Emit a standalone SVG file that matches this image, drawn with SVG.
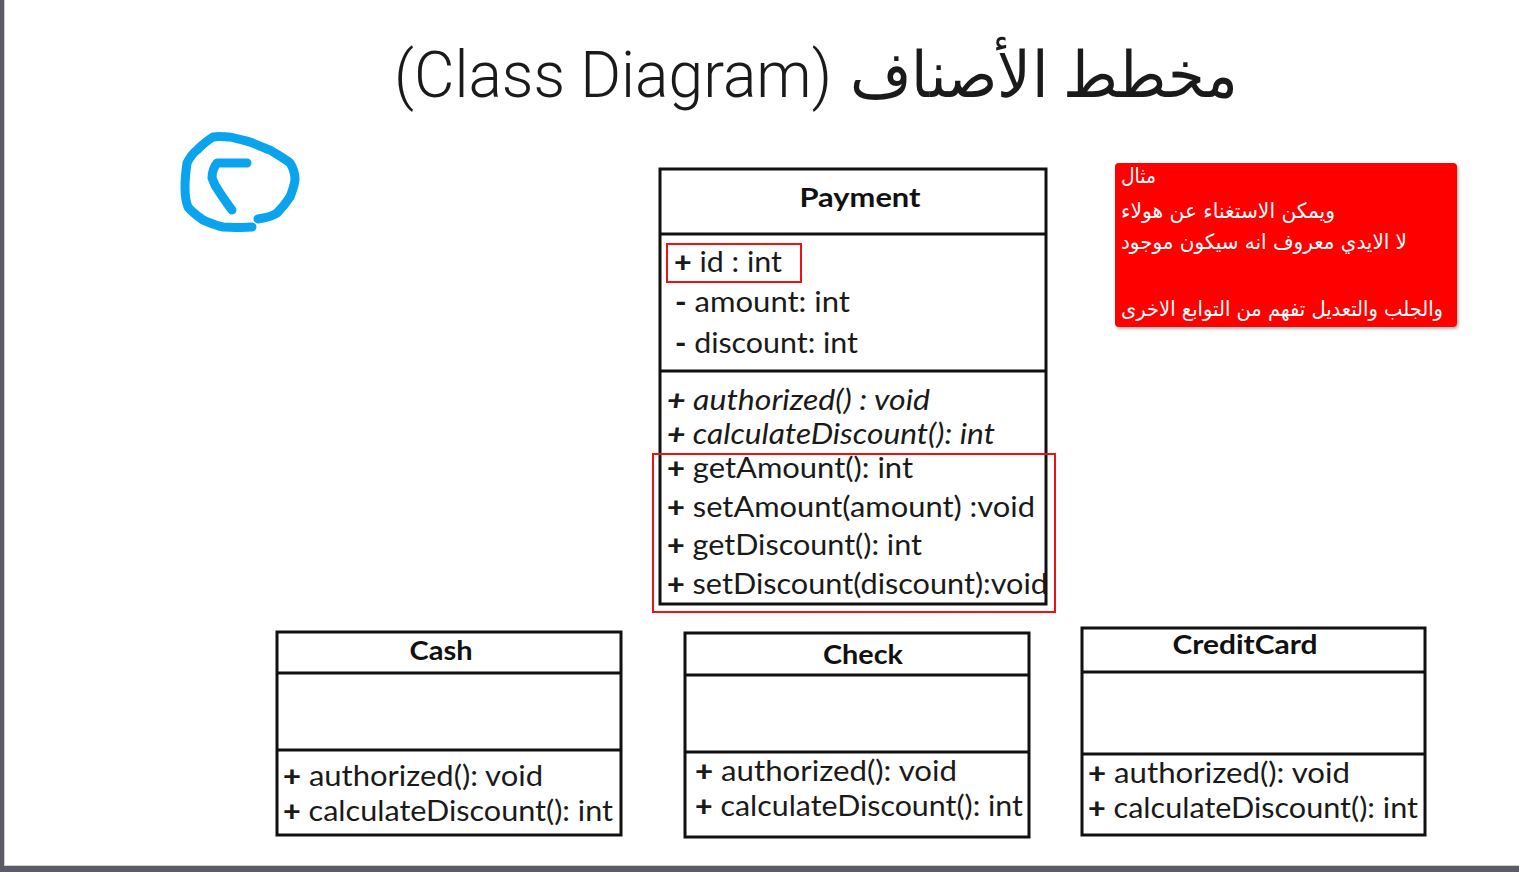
<svg xmlns="http://www.w3.org/2000/svg" width="1519" height="872" viewBox="0 0 1519 872">
  <defs>
    <style>
      .box { fill: #ffffff; stroke: #111111; stroke-width: 3; }
      .sep { stroke: #111111; stroke-width: 3; }
      .cname { font-family: Lato, "Open Sans", "Liberation Sans", sans-serif; font-weight: 700; font-size: 27px; fill: #111111; text-anchor: middle; }
      .member { font-family: Lato, "Open Sans", "Liberation Sans", sans-serif; font-size: 28px; fill: #1a1a1a; }
      .abstract { font-style: italic; }
      .vis { font-weight: 900; }
      .hl { fill: none; stroke: #ee1111; stroke-width: 2; }
      .note-text { font-family: "DejaVu Sans", "Noto Sans", sans-serif; font-size: 21px; fill: #ffffff; }
      .title { font-family: Roboto, "DejaVu Sans", sans-serif; font-weight: 300; font-size: 64px; fill: #1a1a1a; }
    </style>
    <filter id="shadow" x="-5%" y="-5%" width="112%" height="115%">
      <feDropShadow dx="1.5" dy="2" stdDeviation="1.5" flood-color="#000000" flood-opacity="0.3"/>
    </filter>
  </defs>

  <!-- page background and frame -->
  <rect x="0" y="0" width="1519" height="872" fill="#ffffff"/>
  <rect x="0" y="0" width="4" height="872" fill="#5b5b68"/>
  <rect x="4" y="0" width="1" height="866" fill="#cfcbe0"/>
  <rect x="0" y="866" width="1519" height="6" fill="#5b5b68"/>
  <rect x="4" y="865" width="1515" height="1" fill="#cfcbe0"/>

  <!-- title -->
  <g id="title">
    <text class="title" x="394" y="97" textLength="438" lengthAdjust="spacingAndGlyphs">(Class Diagram)</text>
    <text class="title" x="1238" y="97" text-anchor="end" font-family="'DejaVu Sans', sans-serif" font-weight="200" textLength="388" lengthAdjust="spacingAndGlyphs">مخطط الأصناف</text>
  </g>

  <!-- freehand pen mark -->
  <g id="pen-mark" fill="none" stroke="#0aa3ee" stroke-width="9" stroke-linecap="round" stroke-linejoin="round">
    <path d="M252,227 C240,228 230,227 223,227 C214,225 208,222 203,220 C196,215 191,211 188,207 C185,200 185,194 185,187 C185,178 186,170 187,163 C190,157 193,153 197,150 C203,144 208,140 213,137 C220,136 225,137 230,137 C238,139 244,140 250,142 C258,145 264,148 270,150 C278,155 285,159 290,163 C294,169 295,174 295,180 C294,187 292,192 290,197 C286,203 282,208 277,213 C271,217 265,218 258,219"/>
    <path d="M247,163 C236,163 226,163 217,163 C213,168 212,173 212,178 C214,184 217,189 220,193 C224,199 228,205 232,210"/>
  </g>

  <!-- connectors (none drawn) -->
  <g id="connectors"/>

  <!-- Payment class -->
  <g id="node-payment">
    <rect class="box" x="660" y="169" width="386" height="435"/>
    <line class="sep" x1="660" y1="234" x2="1046" y2="234"/>
    <line class="sep" x1="660" y1="371" x2="1046" y2="371"/>
    <text class="cname" x="860" y="207" textLength="121" lengthAdjust="spacingAndGlyphs">Payment</text>
    <text class="member" x="674" y="272" textLength="108" lengthAdjust="spacingAndGlyphs"><tspan class="vis">+</tspan> id : int</text>
    <text class="member" x="675" y="312" textLength="175" lengthAdjust="spacingAndGlyphs"><tspan class="vis">-</tspan> amount: int</text>
    <text class="member" x="675" y="353" textLength="183" lengthAdjust="spacingAndGlyphs"><tspan class="vis">-</tspan> discount: int</text>
    <text class="member abstract" x="667" y="410" textLength="263" lengthAdjust="spacingAndGlyphs"><tspan class="vis">+</tspan> authorized() : void</text>
    <text class="member abstract" x="667" y="444" textLength="328" lengthAdjust="spacingAndGlyphs"><tspan class="vis">+</tspan> calculateDiscount(): int</text>
    <text class="member" x="667" y="478" textLength="246" lengthAdjust="spacingAndGlyphs"><tspan class="vis">+</tspan> getAmount(): int</text>
    <text class="member" x="667" y="517" textLength="368" lengthAdjust="spacingAndGlyphs"><tspan class="vis">+</tspan> setAmount(amount) :void</text>
    <text class="member" x="667" y="555" textLength="255" lengthAdjust="spacingAndGlyphs"><tspan class="vis">+</tspan> getDiscount(): int</text>
    <text class="member" x="667" y="594" textLength="381" lengthAdjust="spacingAndGlyphs"><tspan class="vis">+</tspan> setDiscount(discount):void</text>
    <rect class="hl" x="667" y="244" width="134" height="38"/>
    <rect class="hl" x="653" y="454" width="402" height="158"/>
  </g>

  <!-- note -->
  <g id="node-note">
    <rect x="1115" y="163" width="342" height="164" rx="4" ry="4" fill="#ff0000" filter="url(#shadow)"/>
    <text class="note-text" x="1121" y="183" textLength="35" lengthAdjust="spacingAndGlyphs">مثال</text>
    <text class="note-text" x="1121" y="218" textLength="214" lengthAdjust="spacingAndGlyphs">ويمكن الاستغناء عن هولاء</text>
    <text class="note-text" x="1121" y="249" textLength="286" lengthAdjust="spacingAndGlyphs">لا الايدي معروف انه سيكون موجود</text>
    <text class="note-text" x="1121" y="316" textLength="322" lengthAdjust="spacingAndGlyphs">والجلب والتعديل تفهم من التوابع الاخرى</text>
  </g>

  <!-- Cash class -->
  <g id="node-cash">
    <rect class="box" x="277" y="632" width="344" height="203"/>
    <line class="sep" x1="277" y1="673" x2="621" y2="673"/>
    <line class="sep" x1="277" y1="750" x2="621" y2="750"/>
    <text class="cname" x="441" y="660" textLength="63" lengthAdjust="spacingAndGlyphs">Cash</text>
    <text class="member" x="283" y="786" textLength="260" lengthAdjust="spacingAndGlyphs"><tspan class="vis">+</tspan> authorized(): void</text>
    <text class="member" x="283" y="821" textLength="330" lengthAdjust="spacingAndGlyphs"><tspan class="vis">+</tspan> calculateDiscount(): int</text>
  </g>

  <!-- Check class -->
  <g id="node-check">
    <rect class="box" x="685" y="633" width="344" height="204"/>
    <line class="sep" x1="685" y1="675" x2="1029" y2="675"/>
    <line class="sep" x1="685" y1="752" x2="1029" y2="752"/>
    <text class="cname" x="863" y="664" textLength="80" lengthAdjust="spacingAndGlyphs">Check</text>
    <text class="member" x="695" y="781" textLength="262" lengthAdjust="spacingAndGlyphs"><tspan class="vis">+</tspan> authorized(): void</text>
    <text class="member" x="695" y="816" textLength="328" lengthAdjust="spacingAndGlyphs"><tspan class="vis">+</tspan> calculateDiscount(): int</text>
  </g>

  <!-- CreditCard class -->
  <g id="node-creditcard">
    <rect class="box" x="1082" y="628" width="343" height="207"/>
    <line class="sep" x1="1082" y1="672" x2="1425" y2="672"/>
    <line class="sep" x1="1082" y1="754" x2="1425" y2="754"/>
    <text class="cname" x="1245" y="654" textLength="145" lengthAdjust="spacingAndGlyphs">CreditCard</text>
    <text class="member" x="1088" y="783" textLength="262" lengthAdjust="spacingAndGlyphs"><tspan class="vis">+</tspan> authorized(): void</text>
    <text class="member" x="1088" y="818" textLength="330" lengthAdjust="spacingAndGlyphs"><tspan class="vis">+</tspan> calculateDiscount(): int</text>
  </g>
</svg>
